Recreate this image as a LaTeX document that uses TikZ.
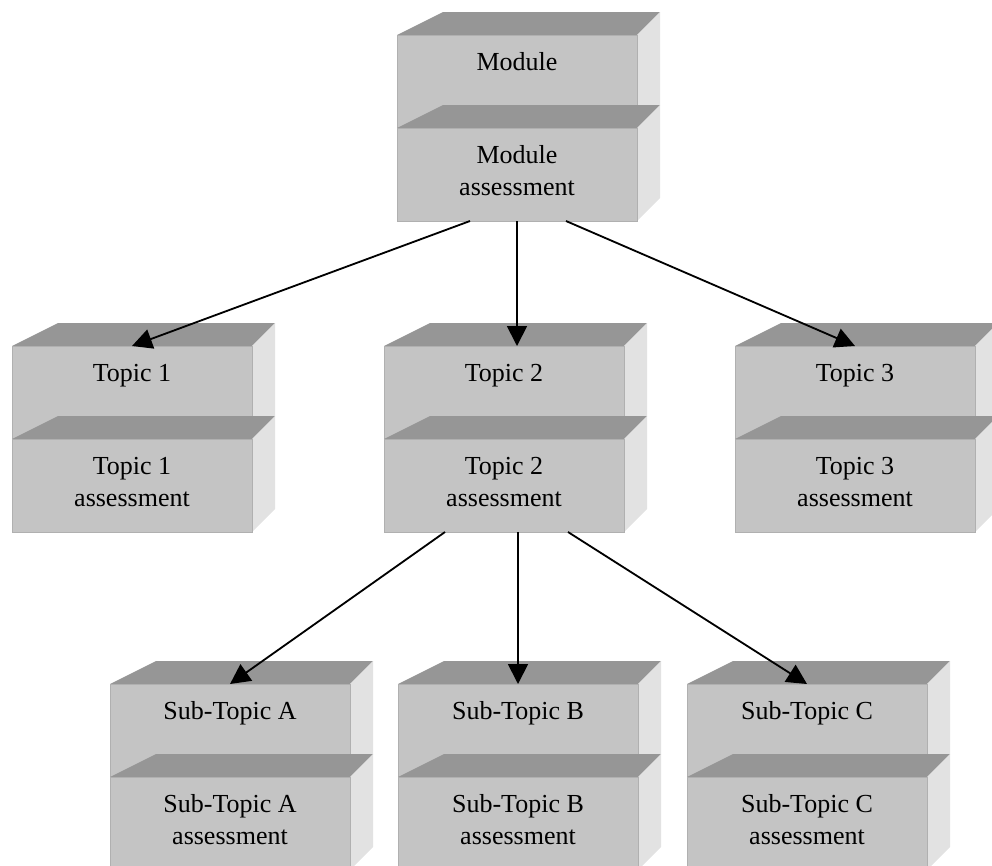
\documentclass[tikz,border=0pt]{standalone}
\usepackage{fontspec}
\setmainfont{Liberation Serif}
\usetikzlibrary{arrows.meta}
\definecolor{facefront}{RGB}{196,196,196}
\definecolor{facetop}{RGB}{150,150,150}
\definecolor{faceside}{RGB}{226,226,226}
\definecolor{faceedge}{RGB}{176,176,176}
\tikzset{
  frontface/.style={fill=facefront, draw=faceedge, line width=0.6pt, minimum width=60mm, minimum height=23.25mm, inner sep=0pt, outer sep=0pt},
  slabtext/.style={font=\fontsize{18.5}{22.8}\selectfont, align=center, inner sep=0pt, anchor=north},
  link/.style={line width=1.3pt, -{Triangle[length=5mm,width=5mm]}}
}
% one slab of a block: name, left, top of front face, text
\newcommand\slab[4]{%
  \fill[color=facetop] (#2,#3) -- ++(46,-23) -- ++(217,0) -- ++(-23,23) -- cycle;
  \fill[color=faceside] (#2+240,#3) -- ++(23,-23) -- ++(0,93) -- ++(-23,23) -- cycle;
  \node[frontface, anchor=north west] (#1) at (#2,#3) {};
  \node[slabtext] (#1-txt) at ([shift={(0,13)}]#1.north) {\strut #4};
}
\begin{document}
\begin{tikzpicture}[x=0.25mm, y=-0.25mm]
    \path[use as bounding box, clip] (0,0) rectangle (992,866);
    \slab{mod}{397}{35}{Module}
    \slab{modas}{397}{128}{Module\\assessment}
    \slab{t1}{12}{346}{Topic 1}
    \slab{t1as}{12}{439}{Topic 1\\assessment}
    \slab{t2}{384}{346}{Topic 2}
    \slab{t2as}{384}{439}{Topic 2\\assessment}
    \slab{t3}{735}{346}{Topic 3}
    \slab{t3as}{735}{439}{Topic 3\\assessment}
    \slab{sa}{110}{684}{Sub-Topic A}
    \slab{saas}{110}{777}{Sub-Topic A\\assessment}
    \slab{sb}{398}{684}{Sub-Topic B}
    \slab{sbas}{398}{777}{Sub-Topic B\\assessment}
    \slab{sc}{687}{684}{Sub-Topic C}
    \slab{scas}{687}{777}{Sub-Topic C\\assessment}
    \draw[link] ([shift={(-47,0)}]modas.south) -- (t1.north);
    \draw[link] (modas.south) -- (modas.south |- t2.north);
    \draw[link] ([shift={(49,0)}]modas.south) -- (t3.north);
    \draw[link] ([shift={(-59,0)}]t2as.south) -- (sa.north);
    \draw[link] (t2as.south -| sb.north) -- (sb.north);
    \draw[link] ([shift={(64,0)}]t2as.south) -- (sc.north);
\end{tikzpicture}
\end{document}
